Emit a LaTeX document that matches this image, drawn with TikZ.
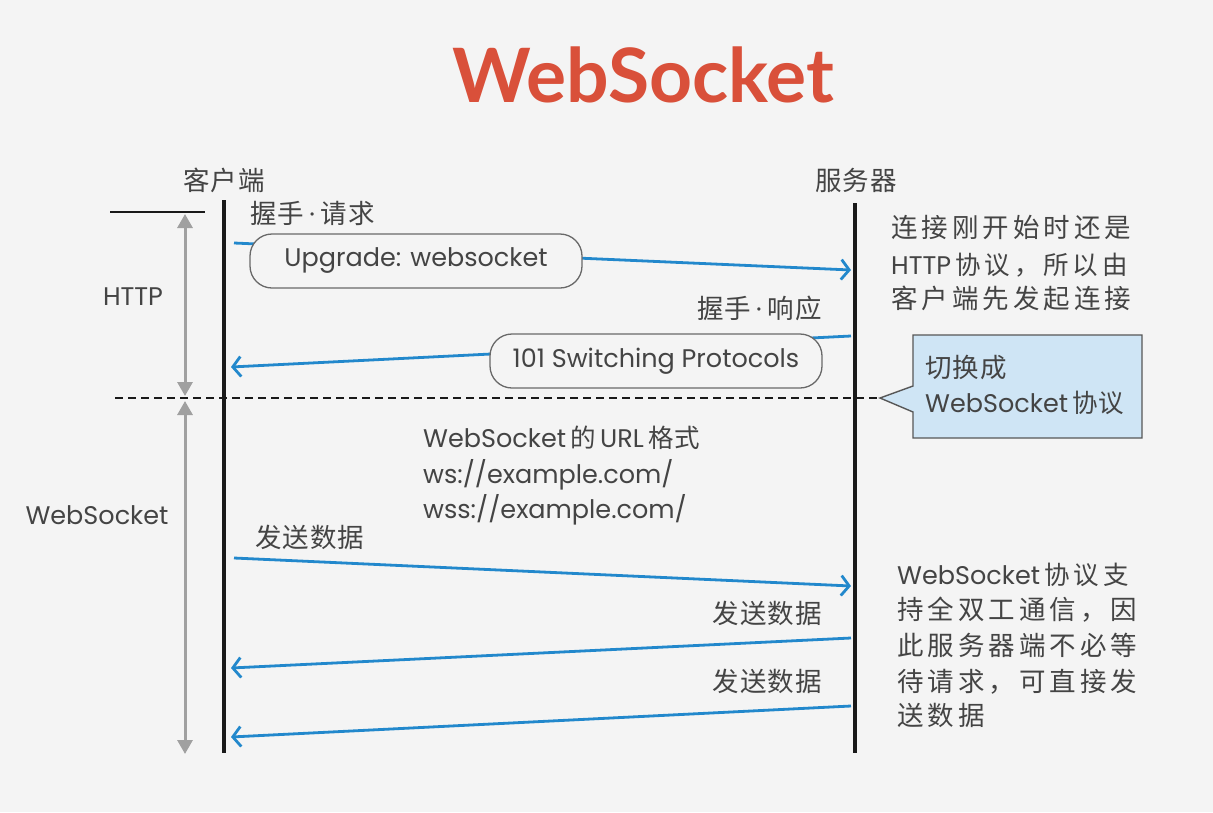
\documentclass[tikz,border=0pt]{standalone}
\usepackage{fontspec}
\setmainfont{Poppins}
\newfontfamily\titlefont{Lato}
\newfontfamily\cjk{Noto Sans CJK SC}[LetterSpace=4]
\newfontfamily\cjkw{Noto Sans CJK SC}[LetterSpace=15]
\usetikzlibrary{arrows.meta}
\definecolor{bg}{HTML}{F4F4F4}
\definecolor{txt}{HTML}{444444}
\definecolor{ttl}{HTML}{D9503A}
\definecolor{msgblue}{HTML}{2288CC}
\definecolor{spanc}{HTML}{A0A0A0}
\definecolor{callfill}{HTML}{CFE5F5}
\newcommand{\zh}[1]{{\cjk #1}}
\newcommand{\zw}[1]{{\cjkw #1}}
\newcommand{\mdot}{\hspace{5pt}{\rmfamily\textperiodcentered}\hspace{6pt}}
\tikzset{
  lbl/.style={inner sep=0pt, text=txt, font=\fontsize{25.5}{30}\selectfont, text height=19pt, text depth=5pt},
  zlbl/.style={inner sep=0pt, text=txt, font=\fontsize{26.5}{30}\selectfont, text height=19pt, text depth=5pt},
  msgline/.style={draw=msgblue, line width=2.8pt, -{Straight Barb[length=8pt,width=20pt,line width=2.8pt]}},
  msgbox/.style={draw=txt!80, line width=1.3pt, fill=bg, rounded corners=22pt, minimum width=332pt, minimum height=54pt, inner sep=0pt, text=txt, font=\fontsize{25.5}{30}\selectfont},
  lifeline/.style={draw=black!90, line width=3.5pt},
  span/.style={draw=spanc, line width=3pt, {Triangle[length=14pt,width=15pt]}-{Triangle[length=14pt,width=15pt]}},
}
\begin{document}
\begin{tikzpicture}[x=1pt,y=-1pt]
\useasboundingbox[fill=bg] (0,0) rectangle (1213,812);
% title
\node[text=ttl, font=\titlefont\fontsize{75}{80}\selectfont\bfseries, inner sep=0pt] (title) at (643,75) {WebSocket};
% lifeline heads
\node[zlbl] (client) at (224,183) {\zh{客户端}};
\node[zlbl] (server) at (856,183) {\zh{服务器}};
% lifelines
\coordinate (c0) at (224,200); \coordinate (c1) at (224,753);
\coordinate (s0) at (855,203); \coordinate (s1) at (855,753);
\draw[lifeline] (c0) -- (c1);
\draw[lifeline] (s0) -- (s1);
% top-left bar
\coordinate (tb0) at (110,212); \coordinate (tb1) at (205,212);
\draw[line width=2.2pt, black!90] (tb0) -- (tb1);
% phase spans
\coordinate (h0) at (185,214); \coordinate (h1) at (185,396);
\coordinate (w0) at (185,401); \coordinate (w1) at (185,754);
\draw[span] (h0) -- (h1);
\draw[span] (w0) -- (w1);
\node[lbl] (http) at (133,298) {HTTP};
\node[lbl] (ws) at (97,517) {WebSocket};
% dashed separator and callout
\coordinate (d0) at (115,398); \coordinate (d1) at (880,398);
\draw[line width=2.4pt, black!90, dash pattern=on 8pt off 5pt] (d0) -- (d1);
\draw[fill=callfill, draw=txt!90, line width=1.4pt] (913,335) -- (1142,335) -- (1142,438) -- (913,438) -- (913,412) -- (880,398) -- (913,386) -- cycle;
\node[zlbl, anchor=west] (cl1) at (925,370) {\zh{切换成}};
\node[lbl, anchor=west] (cl2) at (925,405) {WebSocket\,\zh{协议}};
% handshake request
\coordinate (r1a) at (234,243); \coordinate (r1b) at (851,270);
\draw[msgline] (r1a) -- (r1b);
\node[msgbox] (up) at (416,261) {Upgrade: websocket};
\node[zlbl, anchor=west] (hreq) at (250,216) {\zh{握手}\mdot\zh{请求}};
% handshake response
\coordinate (r2a) at (851,336); \coordinate (r2b) at (231,367);
\draw[msgline] (r2a) -- (r2b);
\node[msgbox] (sw) at (656,361) {101 Switching Protocols};
\node[zlbl, anchor=east] (hres) at (822,311) {\zh{握手}\mdot\zh{响应}};
% right note 1
\node[zlbl, anchor=west] (n1a) at (891,230) {\zw{连接刚开始时还是}};
\node[lbl, anchor=west] (n1b) at (891,267) {HTTP\,\zw{协议，所以由}};
\node[zlbl, anchor=west] (n1c) at (891,301) {\zw{客户端先发起连接}};
% URL format
\node[lbl, anchor=west] (u1) at (423,440) {WebSocket\,\zh{的}\,URL\,\zh{格式}};
\node[lbl, anchor=west] (u2) at (423,476) {ws://example.com/};
\node[lbl, anchor=west] (u3) at (423,511) {wss://example.com/};
% data messages
\coordinate (m1a) at (234,558); \coordinate (m1b) at (851,586);
\draw[msgline] (m1a) -- (m1b);
\node[zlbl, anchor=west] (d1l) at (255,540) {\zh{发送数据}};
\coordinate (m2a) at (851,638); \coordinate (m2b) at (231,668);
\draw[msgline] (m2a) -- (m2b);
\node[zlbl, anchor=east] (d2l) at (822,616) {\zh{发送数据}};
\coordinate (m3a) at (851,706); \coordinate (m3b) at (231,737);
\draw[msgline] (m3a) -- (m3b);
\node[zlbl, anchor=east] (d3l) at (822,684) {\zh{发送数据}};
% right note 2
\node[lbl, anchor=west] (n2a) at (897,577) {WebSocket\,\zw{协议支}};
\node[zlbl, anchor=west] (n2b) at (897,612) {\zw{持全双工通信，因}};
\node[zlbl, anchor=west] (n2c) at (897,648) {\zw{此服务器端不必等}};
\node[zlbl, anchor=west] (n2d) at (897,684) {\zw{待请求，可直接发}};
\node[zlbl, anchor=west] (n2e) at (897,718) {\zw{送数据}};
\end{tikzpicture}
\end{document}
